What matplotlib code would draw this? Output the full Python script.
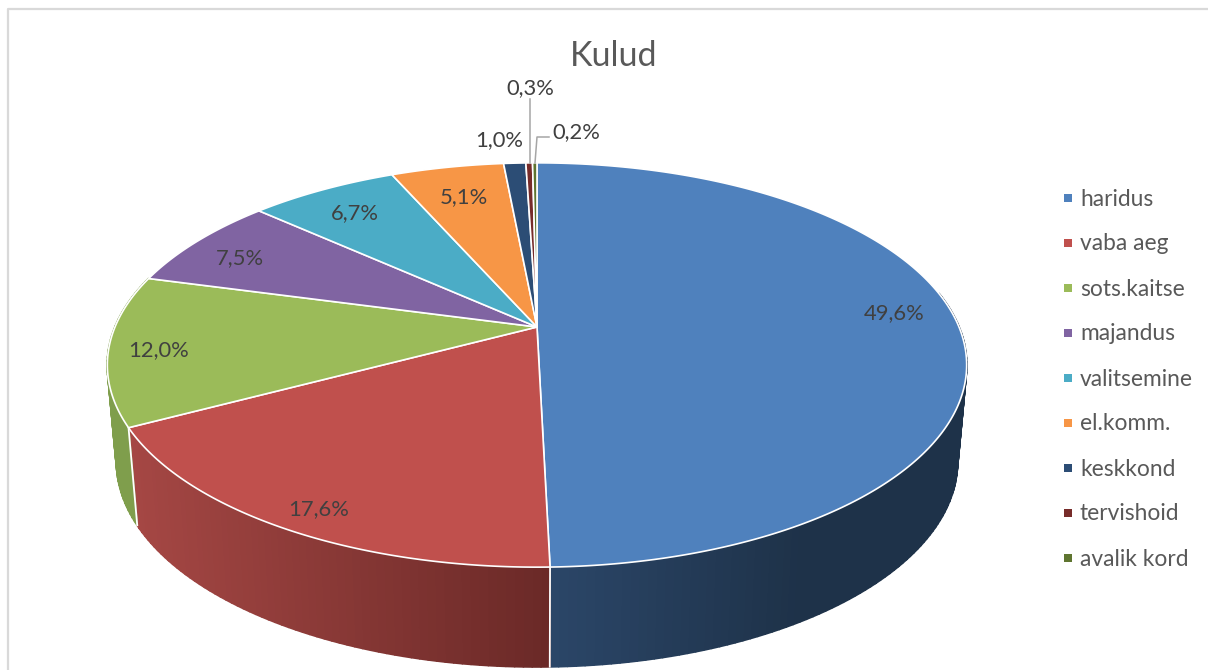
import numpy as np
import matplotlib
matplotlib.use('Agg')
import matplotlib.pyplot as plt

plt.rcParams['font.family'] = ['Lato', 'DejaVu Sans']

names = ['haridus', 'vaba aeg', 'sots.kaitse', 'majandus', 'valitsemine',
         'el.komm.', 'keskkond', 'tervishoid', 'avalik kord']
shares = [49.6, 17.6, 12.0, 7.5, 6.7, 5.1, 1.0, 0.3, 0.2]

colors = ['#4f81bd', '#c0504d', '#9bbb59', '#8064a2', '#4bacc6',
          '#f79646', '#2c4d75', '#772c2a', '#5f7530']
# wall shading, colour at left x and right x
wall_shade = {0: ((551, '#2b4668'), (800, '#1e3249')),
              1: ((130, '#a54744'), (551, '#6a2927')),
              2: ((105, '#7f9e4c'), (140, '#7f9e4c'))}
label_pos = [(894, 312), (319, 508), (159, 349), (240, 257), (355, 212),
             (464, 196), (499, 139), (530, 87), (576, 131)]

# perspective of the disc: top face and bottom face
K = 0.188
TOP = dict(cx=537, cy=327, a=422, b=195)
BOT = dict(cx=537, cy=423, a=413, b=198)


def project(deg, face):
    t = np.radians(deg)
    u, v = np.sin(t), np.cos(t)
    w = 1 + K * v
    return face['cx'] + face['a'] * u / w, face['cy'] - face['b'] * v / w


def hex2rgb(c):
    return np.array(matplotlib.colors.to_rgb(c))


fig = plt.figure(figsize=(12.08, 6.7), dpi=100)
ax = fig.add_axes([0, 0, 1, 1])
ax.set_xlim(0, 1208)
ax.set_ylim(670, 0)
ax.axis('off')

# chart area border
ax.plot([8, 8, 1208], [670, 9, 9], color='#d9d9d9', lw=1.6, zorder=1)

edges = np.concatenate([[0], np.cumsum(shares)]) * 3.6

# side wall, strips front part only
for i in range(3):
    start, end = edges[i], min(edges[i + 1], 290)
    steps = np.linspace(start, end, int(end - start) + 2)
    (x0, c0), (x1, c1) = wall_shade[i]
    c0, c1 = hex2rgb(c0), hex2rgb(c1)
    for d0, d1 in zip(steps[:-1], steps[1:]):
        if d1 < 80:
            continue
        arc = np.linspace(d0, d1, 4)
        xt, yt = project(arc, TOP)
        xb, yb = project(arc[::-1], BOT)
        f = np.clip((xt.mean() - x0) / (x1 - x0), 0, 1)
        col = c0 + (c1 - c0) * f
        ax.fill(np.concatenate([xt, xb]), np.concatenate([yt, yb]),
                facecolor=col, edgecolor=col, lw=1.4, joinstyle='round', zorder=2)
    # white seam between wall pieces
    if start > 80:
        xa, ya = project(start, TOP)
        xd, yd = project(start, BOT)
        ax.plot([xa, xd], [ya, yd], color='white', lw=1.3, zorder=3)

# top face
for i in range(len(shares)):
    arc = np.linspace(edges[i], edges[i + 1], max(int(shares[i] * 8), 4))
    xs, ys = project(arc, TOP)
    xs = np.concatenate([[TOP['cx']], xs])
    ys = np.concatenate([[TOP['cy']], ys])
    ax.fill(xs, ys, facecolor=colors[i], edgecolor='white', lw=1.2,
            joinstyle='round', zorder=4)

# leader lines for the two thin slices
ax.plot([530, 530], [99, 163], color='#a6a6a6', lw=1.1, zorder=5)
ax.plot([549, 537, 535], [137, 137, 163], color='#a6a6a6', lw=1.1, zorder=5)

for v, (x, y) in zip(shares, label_pos):
    txt = f'{v:.1f}%'.replace('.', ',')
    ax.text(x, y + 1, txt, ha='center', va='center', fontsize=15.8, color='#404040', zorder=6)

ax.text(614, 56, 'Kulud', ha='center', va='center', fontsize=24.5, color='#595959', zorder=6)

# legend
for i, name in enumerate(names):
    y = 198 + 45 * i
    ax.plot([1068], [y], marker='s', ms=5.6, mew=0, color=colors[i], zorder=6)
    ax.text(1080, y + 1, name, ha='left', va='center', fontsize=16.4, color='#595959', zorder=6)

fig.savefig('out.png', dpi=100)
